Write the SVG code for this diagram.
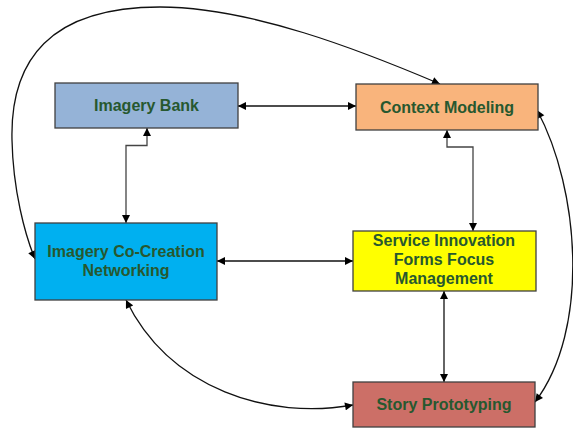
<svg xmlns="http://www.w3.org/2000/svg" width="573" height="428" viewBox="0 0 573 428">
  <style>
    .box { stroke: #404040; stroke-width: 1.3; }
    .lbl { font-family: "Liberation Sans", Arial, sans-serif; font-weight: bold; font-size: 16px; fill: #27582f; text-anchor: middle; }
    .link { fill: none; stroke: #111; stroke-width: 1.3; marker-start: url(#arrow); marker-end: url(#arrow); }
    .elbow { fill: none; stroke: #444; stroke-width: 1.3; marker-start: url(#arrow); marker-end: url(#arrow); }
  </style>
  <defs>
    <marker id="arrow" viewBox="0 0 10 10" refX="10" refY="5" markerWidth="9" markerHeight="8" markerUnits="userSpaceOnUse" orient="auto-start-reverse">
      <path d="M0,0 L10,5 L0,10 z" fill="#000"/>
    </marker>
  </defs>
  <rect width="573" height="428" fill="#fff"/>

  <g id="connectors">
    <!-- straight and elbow links -->
    <path class="link" d="M238,106 H356"/>
    <path class="elbow" d="M147,128 V145.5 H126 V223"/>
    <path class="elbow" d="M447,130 V147 H473 V231"/>
    <path class="link" d="M217,261 H353"/>
    <path class="link" d="M444,291 V382"/>
    <!-- curved links -->
    <path class="link" d="M35,259 C25,235 13,190 12,140 C10,60 50,7 160,7 C250,7 360,50 440,84"/>
    <path class="link" d="M537,110 C580,190 590,330 535,402"/>
    <path class="link" d="M126,300 C170,390 270,420 353,405"/>
  </g>

  <g id="imagery-bank">
    <rect class="box" x="55" y="83" width="183" height="45" fill="#95b3d7"/>
    <text class="lbl" x="146.5" y="111">Imagery Bank</text>
  </g>
  <g id="context-modeling">
    <rect class="box" x="356" y="84" width="182" height="46" fill="#f9b47c"/>
    <text class="lbl" x="447" y="112.5">Context Modeling</text>
  </g>
  <g id="imagery-co-creation">
    <rect class="box" x="35" y="223" width="182" height="77" fill="#00b0f0"/>
    <text class="lbl" x="126" y="257">Imagery Co-Creation</text>
    <text class="lbl" x="126" y="276">Networking</text>
  </g>
  <g id="service-innovation">
    <rect class="box" x="353" y="231" width="183" height="60" fill="#ffff00"/>
    <text class="lbl" x="444" y="246">Service Innovation</text>
    <text class="lbl" x="444" y="265">Forms Focus</text>
    <text class="lbl" x="444" y="284">Management</text>
  </g>
  <g id="story-prototyping">
    <rect class="box" x="353" y="382" width="182" height="45" fill="#cc6f67"/>
    <text class="lbl" x="444" y="410">Story Prototyping</text>
  </g>
</svg>
